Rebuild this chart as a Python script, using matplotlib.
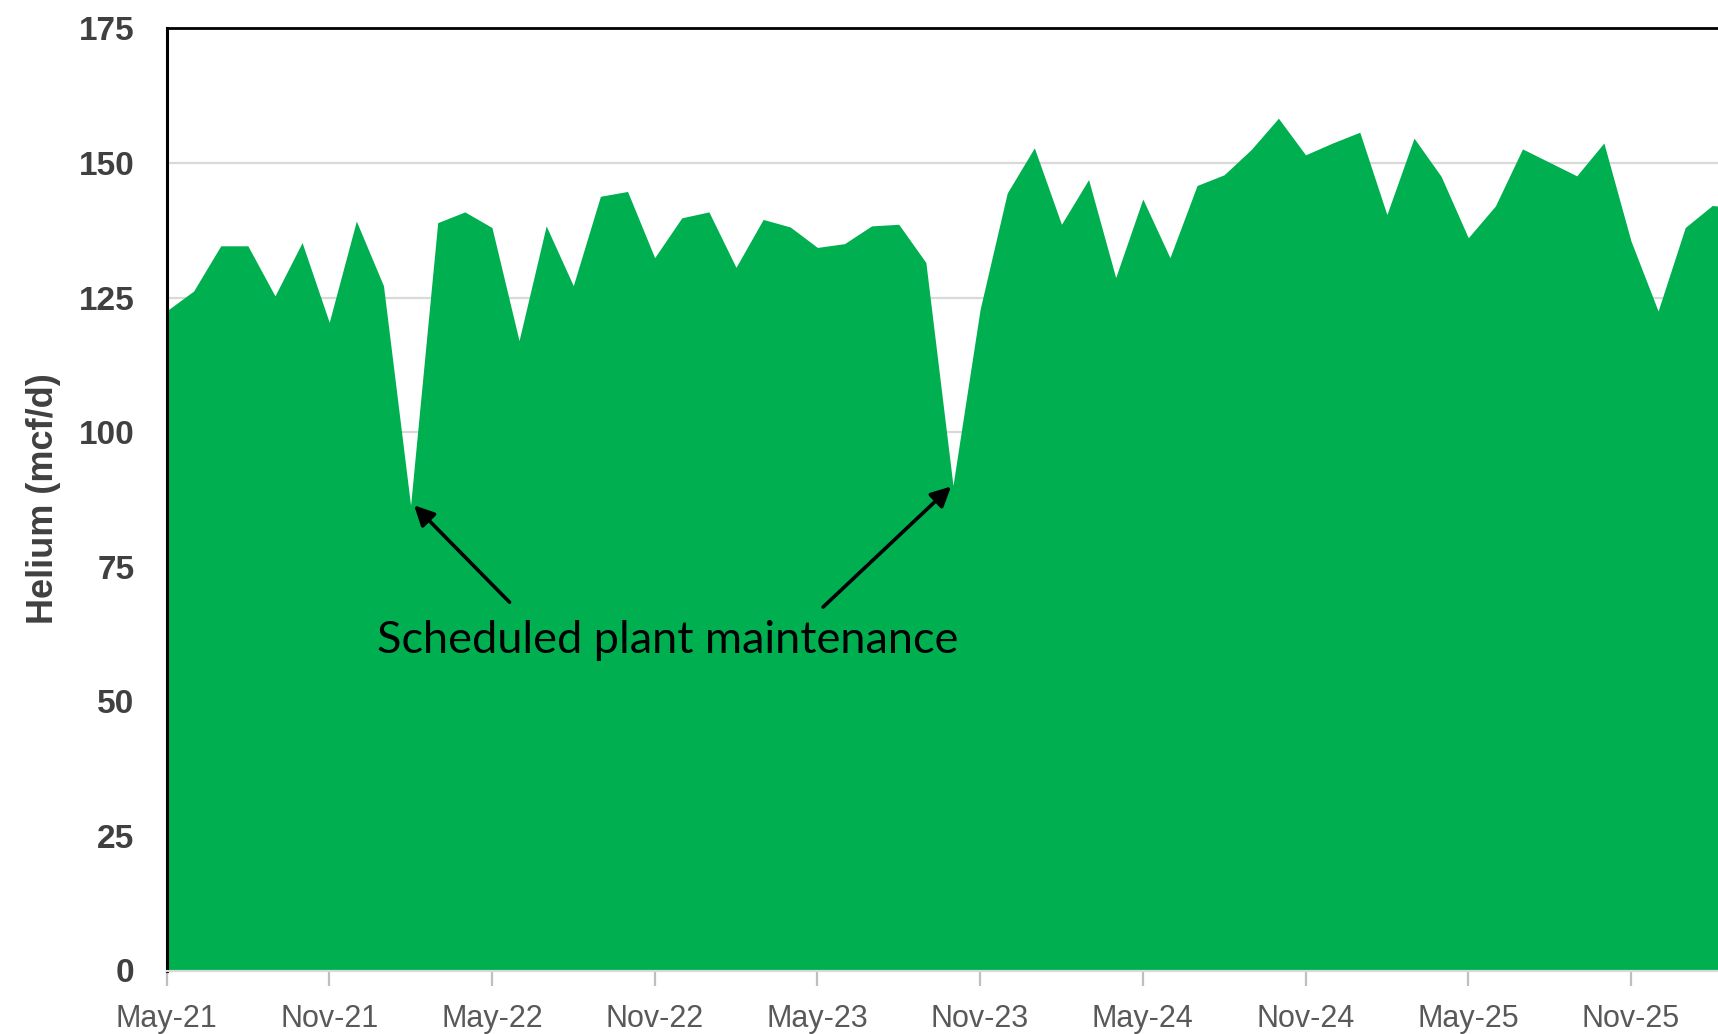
import numpy as np
import matplotlib.pyplot as plt

# monthly helium production, May-21 onwards (mcf/d)
months = ["May-21", "Jun-21", "Jul-21", "Aug-21", "Sep-21", "Oct-21", "Nov-21", "Dec-21",
          "Jan-22", "Feb-22", "Mar-22", "Apr-22", "May-22", "Jun-22", "Jul-22", "Aug-22",
          "Sep-22", "Oct-22", "Nov-22", "Dec-22", "Jan-23", "Feb-23", "Mar-23", "Apr-23",
          "May-23", "Jun-23", "Jul-23", "Aug-23", "Sep-23", "Oct-23", "Nov-23", "Dec-23",
          "Jan-24", "Feb-24", "Mar-24", "Apr-24", "May-24", "Jun-24", "Jul-24", "Aug-24",
          "Sep-24", "Oct-24", "Nov-24", "Dec-24", "Jan-25", "Feb-25", "Mar-25", "Apr-25",
          "May-25", "Jun-25", "Jul-25", "Aug-25", "Sep-25", "Oct-25", "Nov-25", "Dec-25",
          "Jan-26", "Feb-26", "Mar-26"]
helium = [122.5, 126.2, 134.6, 134.6, 125.3, 135.2, 120.4, 139.2,
          127.2, 86.4, 138.9, 140.9, 138.0, 117.0, 138.3, 127.2,
          143.8, 144.7, 132.4, 139.8, 140.9, 130.6, 139.5, 138.1,
          134.3, 135.0, 138.3, 138.6, 131.5, 90.1, 122.8, 144.4,
          152.8, 138.6, 146.9, 128.7, 143.3, 132.4, 145.8, 147.8,
          152.5, 158.3, 151.5, 153.7, 155.7, 140.4, 154.6, 147.5,
          136.1, 142.0, 152.6, 150.1, 147.6, 153.7, 135.5, 122.5,
          138.0, 142.1, 141.5]
yticks = [0, 25, 50, 75, 100, 125, 150, 175]

x = np.arange(len(helium))

fig = plt.figure(figsize=(17.18, 10.34), dpi=100)
ax = fig.add_axes([166.5/1718, 1 - 970.5/1034, 1 - 166.5/1718, (970.5 - 28.3)/1034])

ax.set_axisbelow(True)
ax.grid(axis='y', color='#d9d9d9', lw=1.6)
ax.fill_between(x, helium, 0, color='#00b050', lw=0, zorder=2)

ax.set_xlim(0, (1718 - 166.5)/27.12)
ax.set_ylim(0, 175)
ax.set_yticks(yticks)
ax.set_yticklabels([str(v) for v in yticks], fontsize=24, fontweight='bold',
                   color='#404040', family=['Liberation Sans', 'DejaVu Sans'])
ax.tick_params(axis='y', length=0, pad=23)

ax.set_xticks(x[::6])
ax.set_xticklabels(months[::6], fontsize=22, color='#595959',
                   family=['Liberation Sans Narrow', 'Liberation Sans'])
ax.tick_params(axis='x', length=11, width=1.6, color='#bfbfbf', pad=13)

ax.spines['left'].set_color('black')
ax.spines['left'].set_linewidth(2.2)
ax.spines['top'].set_color('black')
ax.spines['top'].set_linewidth(2.0)
ax.spines['right'].set_visible(False)
ax.spines['bottom'].set_color('#d9d9d9')
ax.spines['bottom'].set_linewidth(1.6)

fig.text(44/1718, 1 - 499/1034, "Helium (mcf/d)", rotation=90, ha='center', va='center',
         fontsize=26, fontweight='bold', color='#404040', family=['Liberation Sans', 'DejaVu Sans'])

# annotation
ax.text(18.49, 61.3, "Scheduled plant maintenance", ha='center', va='center',
        fontsize=32.5, color='black', family=['Lato', 'DejaVu Sans'], zorder=5)
arrow = dict(arrowstyle='-|>', lw=2.6, color='black', mutation_scale=30, shrinkA=0, shrinkB=0)
ax.annotate('', xy=(9.13, 86.4), xytext=(12.65, 68.4), arrowprops=arrow, zorder=5)
ax.annotate('', xy=(28.93, 89.9), xytext=(24.21, 67.5), arrowprops=arrow, zorder=5)

plt.savefig('out.png', dpi=100)
